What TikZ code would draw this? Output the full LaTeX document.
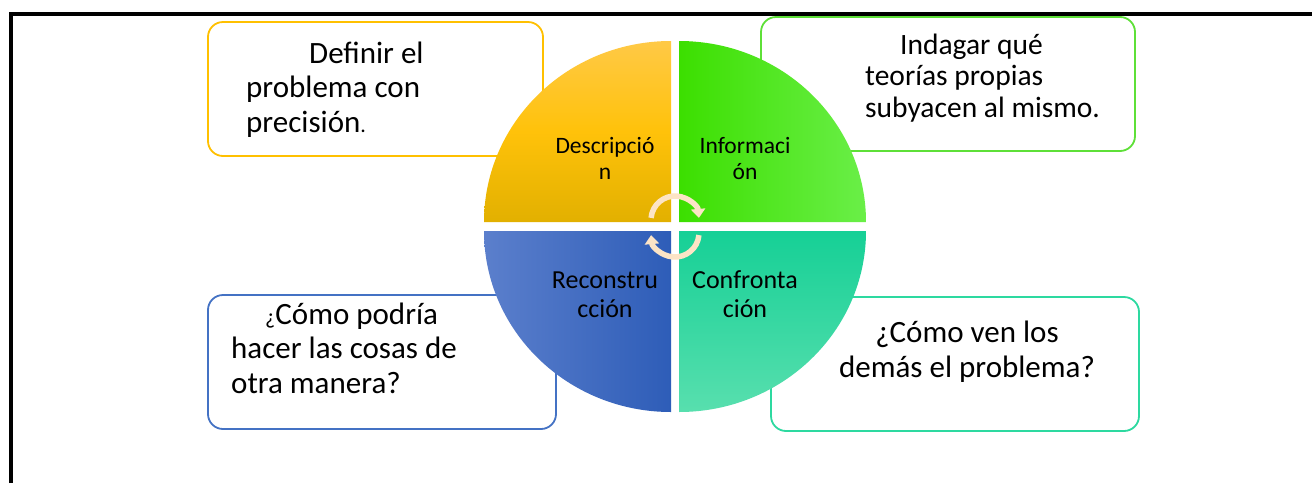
\documentclass[tikz,border=0pt]{standalone}
\usepackage{fontspec}
\setmainfont{Carlito}
\usetikzlibrary{arrows.meta}
\definecolor{cY}{HTML}{FFC000}
\definecolor{cG}{HTML}{5EE038}
\definecolor{cB}{HTML}{4472C4}
\definecolor{cT}{HTML}{2DD9A0}
\definecolor{cream}{HTML}{FCE4C6}
\definecolor{yTop}{HTML}{FFC946}
\definecolor{yMid}{HTML}{FFC20A}
\definecolor{yBot}{HTML}{E2B000}
\definecolor{gL}{HTML}{3CDF00}
\definecolor{gR}{HTML}{6AEF48}
\definecolor{bL}{HTML}{5B7FCC}
\definecolor{bR}{HTML}{2E5DB8}
\definecolor{tTop}{HTML}{16D096}
\definecolor{tBot}{HTML}{58DFAE}
\begin{document}
\begin{tikzpicture}[x=1pt,y=-1pt,
  frame/.style={line width=4pt,black},
  bx/.style={draw,line width=1.8pt,rounded corners=15pt,fill=white,inner sep=0pt},
  btext/.style={inner sep=0pt,align=left,font=\fontsize{31}{34.5}\selectfont},
  qtext/.style={inner sep=0pt,align=center,text=black},
  carrow/.style={draw=cream,line width=5.5pt,-{Triangle[width=14pt,length=9pt]}}]
\useasboundingbox (0,0) rectangle (1312,483);
\fill[white] (0,0) rectangle (1312,483);
% frame
\coordinate (fa) at (10.5,483);
\coordinate (fb) at (10.5,14.3);
\coordinate (fc) at (1312,14.3);
\draw[frame] (fa) -- (fb) -- (fc);
% boxes
\node[bx,draw=cY,minimum width=335pt,minimum height=134pt] (b1) at (375.5,89) {};
\node[bx,draw=cG,minimum width=374pt,minimum height=134pt] (b2) at (948,84) {};
\node[bx,draw=cB,minimum width=348pt,minimum height=134pt] (b3) at (382,362) {};
\node[bx,draw=cT,minimum width=368pt,minimum height=134pt] (b4) at (955,364) {};
% box texts (base anchor = last line)
\node[btext,anchor=base west] (t1) at (246,132) {\hspace*{63pt}Definir el\\problema con\\precisión{\fontsize{22}{22}\selectfont.}};
\node[btext,anchor=base west,font=\fontsize{29.5}{31.5}\selectfont] (t2) at (865,117) {\hspace*{35pt}Indagar qué\\teorías propias\\subyacen al mismo.};
\node[btext,anchor=base west] (t3) at (231,393) {\hspace*{34pt}{\fontsize{22}{22}\selectfont ¿}Cómo podría\\hacer las cosas de\\otra manera?};
\node[btext,anchor=base,align=center] (t4) at (967,377) {¿Cómo ven los\\demás el problema?};
% quadrants
\shade[top color=yTop,bottom color=yBot,middle color=yMid]
  (671,222) -- (484,222) arc[start angle=180,end angle=270,x radius=187,y radius=181] -- cycle;
\shade[left color=gL,right color=gR]
  (679,222) -- (679,41) arc[start angle=270,end angle=360,x radius=187,y radius=181] -- cycle;
\shade[left color=bL,right color=bR]
  (671,231) -- (484,231) arc[start angle=180,end angle=90,x radius=187,y radius=181] -- cycle;
\shade[top color=tTop,bottom color=tBot]
  (679,231) -- (866,231) arc[start angle=0,end angle=90,x radius=187,y radius=181] -- cycle;
% quadrant labels
\node[qtext,anchor=base,font=\fontsize{23.5}{26}\selectfont] (q1) at (605,179) {Descripció\\n};
\node[qtext,anchor=base,font=\fontsize{23.5}{26}\selectfont] (q2) at (745,179) {Informaci\\ón};
\node[qtext,anchor=base,font=\fontsize{26}{29}\selectfont] (q3) at (605,317) {Reconstru\\cción};
\node[qtext,anchor=base,font=\fontsize{26}{29}\selectfont] (q4) at (745,317) {Confronta\\ción};
% cycle arrows
\coordinate (ac1) at (675,220);
\coordinate (ac2) at (675,233);
\draw[carrow] (ac1) ++(185:24) arc[start angle=185,end angle=355,radius=24];
\draw[carrow] (ac2) ++(5:24) arc[start angle=5,end angle=175,radius=24];
\end{tikzpicture}
\end{document}
